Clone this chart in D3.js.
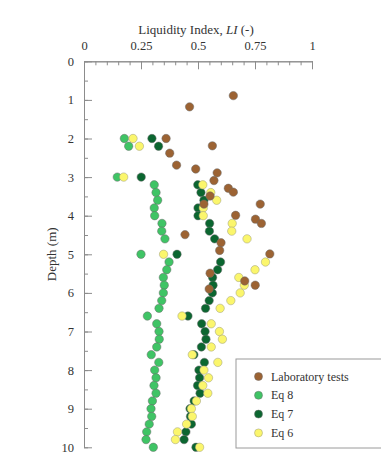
<!DOCTYPE html>
<html>
<head>
<meta charset="utf-8">
<script src="https://cdn.jsdelivr.net/npm/d3@7"></script>
<style>
  body { margin: 0; background: #fff; }
  svg { font-family: 'Liberation Serif', 'Times New Roman', serif; }
</style>
</head>
<body>
<svg id="svg" width="381" height="472"></svg>
<script>
// depths (m) shared by the three equations
const eqDepth = [2.0, 2.2, 3.0, 3.2, 3.4, 3.6, 3.8, 4.0, 4.2, 4.4, 4.6, 5.0, 5.2, 5.4, 5.6, 5.8, 6.0, 6.2, 6.4, 6.6, 6.8, 7.0, 7.2, 7.4, 7.6, 7.8, 8.0, 8.2, 8.4, 8.6, 8.8, 9.0, 9.2, 9.4, 9.6, 9.8, 10.0]
const eq8 = [0.177, 0.196, 0.146, 0.308, 0.316, 0.323, 0.308, 0.310, 0.342, 0.341, 0.355, 0.250, 0.373, 0.363, 0.348, 0.352, 0.348, 0.341, 0.329, 0.278, 0.319, 0.329, 0.330, 0.319, 0.295, 0.328, 0.310, 0.316, 0.307, 0.316, 0.300, 0.294, 0.297, 0.286, 0.275, 0.272, 0.304]
const eq7 = [0.298, 0.327, 0.251, 0.499, 0.513, 0.526, 0.500, 0.500, 0.551, 0.550, 0.573, 0.408, 0.599, 0.586, 0.564, 0.566, 0.563, 0.549, 0.533, 0.456, 0.516, 0.531, 0.535, 0.515, 0.482, 0.528, 0.504, 0.507, 0.498, 0.509, 0.483, 0.465, 0.467, 0.471, 0.447, 0.439, 0.491]
const eq6 = [0.215, 0.243, 0.174, 0.521, 0.556, 0.582, 0.523, 0.523, 0.650, 0.648, 0.715, 0.349, 0.796, 0.750, 0.679, 0.703, 0.685, 0.644, 0.597, 0.430, 0.558, 0.594, 0.607, 0.558, 0.475, 0.587, 0.526, 0.546, 0.521, 0.543, 0.493, 0.471, 0.475, 0.450, 0.410, 0.401, 0.507]

// laboratory tests
const labDepth = [0.89, 1.18, 2.0, 2.19, 2.38, 2.69, 2.79, 2.89, 3.09, 3.29, 3.39, 3.49, 3.70, 3.70, 3.99, 4.09, 4.20, 4.49, 4.70, 4.90, 4.99, 5.49, 5.69, 5.80, 5.90]
const labLI = [0.655, 0.463, 0.360, 0.563, 0.376, 0.406, 0.490, 0.584, 0.570, 0.633, 0.655, 0.553, 0.526, 0.773, 0.665, 0.752, 0.778, 0.443, 0.601, 0.595, 0.815, 0.553, 0.705, 0.751, 0.549]

const xTicks = [0, 0.25, 0.5, 0.75, 1]
const xTickLabels = ['0', '0.25', '0.5', '0.75', '1']
const yTicks = [0, 1, 2, 3, 4, 5, 6, 7, 8, 9, 10]
const yTickLabels = ['0', '1', '2', '3', '4', '5', '6', '7', '8', '9', '10']

const legendNames = ['Laboratory tests', 'Eq 8', 'Eq 7', 'Eq 6']
const colors = {
    'Laboratory tests': '#9c6333',
    'Eq 8': '#3fc465',
    'Eq 7': '#0b6630',
    'Eq 6': '#fbf66c'
}

const svg = d3.select('#svg')
const axisColor = '#8c8c8c'
const textColor = '#333'

const x = d3.scaleLinear().domain([0, 1]).range([84, 312])
const y = d3.scaleLinear().domain([0, 10]).range([61.3, 447.3])

// minor ticks first
svg.append('g')
    .attr('transform', `translate(0, ${y(0)})`)
    .call(d3.axisTop(x).tickValues(d3.range(0, 1.0001, 0.05)).tickSize(-4).tickSizeOuter(0).tickFormat(''))
svg.append('g')
    .attr('transform', `translate(${x(0)}, 0)`)
    .call(d3.axisLeft(y).tickValues(d3.range(0, 10.001, 0.5)).tickSize(-4).tickSizeOuter(0).tickFormat(''))

const xAxis = svg.append('g')
    .attr('transform', `translate(0, ${y(0)})`)
    .call(d3.axisTop(x).tickValues(xTicks).tickSize(-8).tickSizeOuter(0).tickPadding(11)
        .tickFormat((d, i) => xTickLabels[i]))

const yAxis = svg.append('g')
    .attr('transform', `translate(${x(0)}, 0)`)
    .call(d3.axisLeft(y).tickValues(yTicks).tickSize(-8).tickSizeOuter(0).tickPadding(10)
        .tickFormat((d, i) => yTickLabels[i]))

svg.selectAll('.domain, .tick line')
    .attr('stroke', axisColor)
svg.selectAll('.tick text')
    .attr('fill', textColor)
    .style('font-family', "'Liberation Serif', serif")
    .style('font-size', '12.5px')

// titles
const xTitle = svg.append('text')
    .attr('x', x(0.5) - 2)
    .attr('y', 34)
    .attr('text-anchor', 'middle')
    .attr('fill', textColor)
    .style('font-size', '13px')
xTitle.append('tspan').text('Liquidity Index, ')
xTitle.append('tspan').style('font-style', 'italic').text('LI')
xTitle.append('tspan').text(' (-)')

svg.append('text')
    .attr('transform', `translate(56, ${(y(0) + y(10)) / 2}) rotate(-90)`)
    .attr('text-anchor', 'middle')
    .attr('fill', textColor)
    .style('font-size', '13px')
    .text('Depth (m)')

// points
const series = [
    { name: 'Eq 8', depth: eqDepth, li: eq8 },
    { name: 'Eq 7', depth: eqDepth, li: eq7 },
    { name: 'Eq 6', depth: eqDepth, li: eq6 },
    { name: 'Laboratory tests', depth: labDepth, li: labLI }
]

series.forEach(s => {
    svg.append('g')
        .selectAll('circle')
        .data(s.li)
        .enter()
        .append('circle')
        .attr('cx', d => x(d))
        .attr('cy', (d, i) => y(s.depth[i]))
        .attr('r', 4.2)
        .attr('fill', colors[s.name])
        .attr('stroke', s.name === 'Eq 6' ? '#9a9a7a' : '#6a6a6a')
        .attr('stroke-width', 0.5)
})

// legend
const legend = svg.append('g')
legend.append('rect')
    .attr('x', 236)
    .attr('y', 359)
    .attr('width', 160)
    .attr('height', 89)
    .attr('fill', '#fff')
    .attr('stroke', '#9a9a9a')

legend.selectAll('circle')
    .data(legendNames)
    .enter()
    .append('circle')
    .attr('cx', 258.5)
    .attr('cy', (d, i) => 376.5 + i * 18.8)
    .attr('r', 4)
    .attr('fill', d => colors[d])
    .attr('stroke', d => d === 'Eq 6' ? '#9a9a7a' : '#6a6a6a')
    .attr('stroke-width', 0.5)

legend.selectAll('text')
    .data(legendNames)
    .enter()
    .append('text')
    .attr('x', 271)
    .attr('y', (d, i) => 380.5 + i * 18.8)
    .attr('fill', textColor)
    .style('font-size', '12px')
    .text(d => d)
</script>
</body>
</html>
